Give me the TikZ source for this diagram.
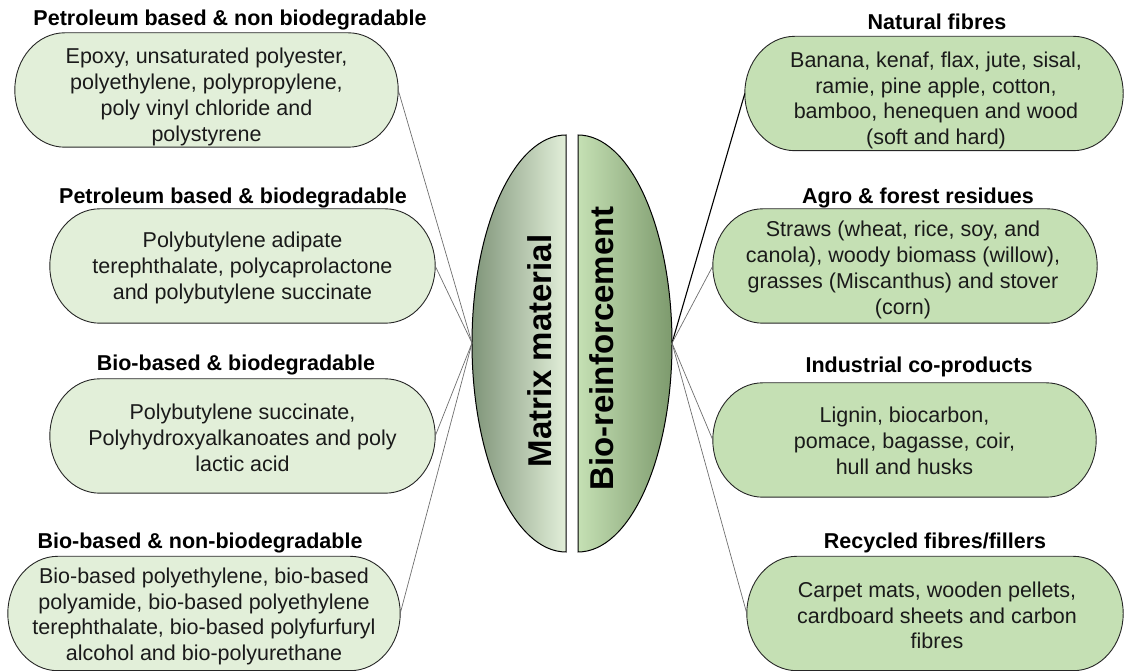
\documentclass[tikz,border=0pt]{standalone}
\usepackage{fontspec}
\setmainfont{Liberation Sans}
\usetikzlibrary{backgrounds,calc}
\definecolor{lightfill}{HTML}{E2EFD9}
\definecolor{midfill}{HTML}{C5E0B4}
\definecolor{darkL}{HTML}{7F9479}
\definecolor{darkR}{HTML}{7D9A6D}
\definecolor{bodytext}{HTML}{1A1A1A}
\definecolor{connGray}{HTML}{6E6E6E}
\tikzset{
  box/.style={minimum width=#1, minimum height=114pt, inner sep=0pt},
  bodytxt/.style={inner sep=0pt, align=center, text=bodytext,
    font=\fontsize{21.5pt}{25.8pt}\selectfont},
  boxtitle/.style={inner sep=0pt, font=\bfseries\fontsize{21.5pt}{25.5pt}\selectfont},
  bigtext/.style={inner sep=0pt, rotate=90, font=\bfseries\fontsize{33pt}{38pt}\selectfont},
  pill/.style={draw=black!85, line width=0.9pt},
  half/.style={draw=black, line width=1pt},
  conn/.style={draw=connGray, line width=0.7pt},
  conndark/.style={draw=black, line width=1.1pt}
}
\newcommand\pillshape[2]{%
  \path let \p1=(#1.north west), \p2=(#1.south east), \n1={(\y1-\y2)/2} in
    [pill, fill=#2] (\x1+50pt,\y1) -- (\x2-50pt,\y1)
    arc[start angle=90, end angle=-90, x radius=50pt, y radius=\n1]
    -- (\x1+50pt,\y2)
    arc[start angle=270, end angle=90, x radius=50pt, y radius=\n1] -- cycle;}
\begin{document}
\begin{tikzpicture}[x=1pt,y=1pt]
\useasboundingbox (0,0) rectangle (1124,671);

% central halves
\path[half, left color=darkL, right color=lightfill]
  (566,536) arc[start angle=90, end angle=270, x radius=94, y radius=208.5] -- cycle;
\path[half, left color=midfill, right color=darkR]
  (578,536) arc[start angle=90, end angle=-90, x radius=94, y radius=208.5] -- cycle;
\node[bigtext] (matrix) at (540,320) {Matrix material};
\node[bigtext] (bio) at (602,322.5) {Bio-reinforcement};
\coordinate (lapex) at (472,328);
\coordinate (rapex) at (672,328);

% left boxes
\node[box=383pt] (l1) at (206.5,581) {};
\node[box=385pt] (l2) at (242.5,405) {};
\node[box=385pt] (l3) at (242.5,235) {};
\node[box=392pt] (l4) at (204,57.5) {};
% right boxes
\node[box=378pt] (r1) at (934,577.5) {};
\node[box=384pt] (r2) at (905,405) {};
\node[box=383pt] (r3) at (904.5,231) {};
\node[box=376pt] (r4) at (935,57.5) {};

\begin{scope}[on background layer]
  \pillshape{l1}{lightfill}
  \pillshape{l2}{lightfill}
  \pillshape{l3}{lightfill}
  \pillshape{l4}{lightfill}
  \pillshape{r1}{midfill}
  \pillshape{r2}{midfill}
  \pillshape{r3}{midfill}
  \pillshape{r4}{midfill}
\end{scope}

% box texts
\node[bodytxt] (l1t) at ($(l1)+(0,-7)$) {Epoxy, unsaturated polyester,\\polyethylene, polypropylene,\\poly vinyl chloride and\\polystyrene};
\node[bodytxt] (l2t) at ($(l2)+(0,-2)$) {Polybutylene adipate\\terephthalate, polycaprolactone\\and polybutylene succinate};
\node[bodytxt] (l3t) at ($(l3)+(0,-2)$) {Polybutylene succinate,\\Polyhydroxyalkanoates and poly\\lactic acid};
\node[bodytxt] (l4t) at ($(l4)+(0,-3)$) {Bio-based polyethylene, bio-based\\polyamide, bio-based polyethylene\\terephthalate, bio-based polyfurfuryl\\alcohol and bio-polyurethane};
\node[bodytxt] (r1t) at ($(r1)+(2,-7)$) {Banana, kenaf, flax, jute, sisal,\\ramie, pine apple, cotton,\\bamboo, henequen and wood\\(soft and hard)};
\node[bodytxt] (r2t) at ($(r2)+(-2,-4)$) {Straws (wheat, rice, soy, and\\canola), woody biomass (willow),\\grasses (Miscanthus) and stover\\(corn)};
\node[bodytxt] (r3t) at ($(r3)+(0,-1)$) {Lignin, biocarbon,\\pomace, bagasse, coir,\\hull and husks};
\node[bodytxt] (r4t) at ($(r4)+(2,-2)$) {Carpet mats, wooden pellets,\\cardboard sheets and carbon\\fibres};

% titles
\node[boxtitle] (t1) at (230,651) {Petroleum based \& non biodegradable};
\node[boxtitle] (t2) at (233,473) {Petroleum based \& biodegradable};
\node[boxtitle] (t3) at (236,306) {Bio-based \& biodegradable};
\node[boxtitle] (t4) at (200,128) {Bio-based \& non-biodegradable};
\node[boxtitle] (t5) at (937,649) {Natural fibres};
\node[boxtitle] (t6) at (918,473) {Agro \& forest residues};
\node[boxtitle] (t7) at (919,304) {Industrial co-products};
\node[boxtitle] (t8) at (935,128) {Recycled fibres/fillers};

% connectors
\draw[conn] (l1.east) -- (lapex);
\draw[conn] (l2.east) -- (lapex);
\draw[conn] (l3.east) -- (lapex);
\draw[conn] (l4.east) -- (lapex);
\draw[conndark] (r1.west) -- (rapex);
\draw[conn] (r2.west) -- (rapex);
\draw[conn] (r3.west) -- (rapex);
\draw[conn] (r4.west) -- (rapex);
\end{tikzpicture}
\end{document}
